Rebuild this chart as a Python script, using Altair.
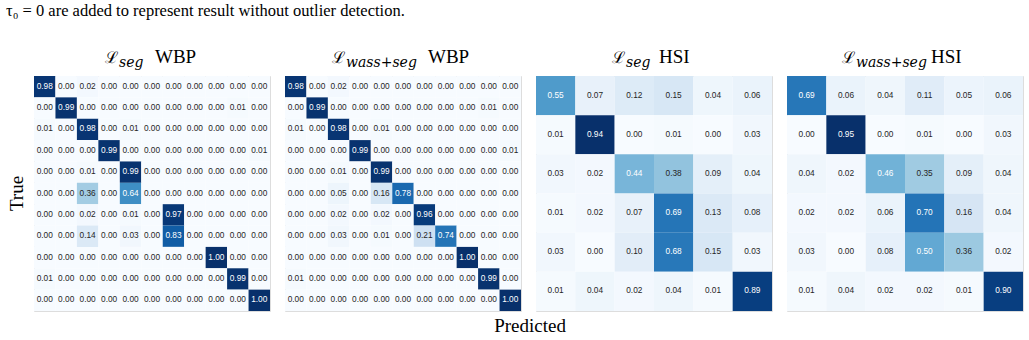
import altair as alt
import pandas as pd

# ---- data ----
wbp_seg = [
    [0.98, 0.00, 0.02, 0.00, 0.00, 0.00, 0.00, 0.00, 0.00, 0.00, 0.00],
    [0.00, 0.99, 0.00, 0.00, 0.00, 0.00, 0.00, 0.00, 0.00, 0.01, 0.00],
    [0.01, 0.00, 0.98, 0.00, 0.01, 0.00, 0.00, 0.00, 0.00, 0.00, 0.00],
    [0.00, 0.00, 0.00, 0.99, 0.00, 0.00, 0.00, 0.00, 0.00, 0.00, 0.01],
    [0.00, 0.00, 0.01, 0.00, 0.99, 0.00, 0.00, 0.00, 0.00, 0.00, 0.00],
    [0.00, 0.00, 0.36, 0.00, 0.64, 0.00, 0.00, 0.00, 0.00, 0.00, 0.00],
    [0.00, 0.00, 0.02, 0.00, 0.01, 0.00, 0.97, 0.00, 0.00, 0.00, 0.00],
    [0.00, 0.00, 0.14, 0.00, 0.03, 0.00, 0.83, 0.00, 0.00, 0.00, 0.00],
    [0.00, 0.00, 0.00, 0.00, 0.00, 0.00, 0.00, 0.00, 1.00, 0.00, 0.00],
    [0.01, 0.00, 0.00, 0.00, 0.00, 0.00, 0.00, 0.00, 0.00, 0.99, 0.00],
    [0.00, 0.00, 0.00, 0.00, 0.00, 0.00, 0.00, 0.00, 0.00, 0.00, 1.00],
]
wbp_wass = [
    [0.98, 0.00, 0.02, 0.00, 0.00, 0.00, 0.00, 0.00, 0.00, 0.00, 0.00],
    [0.00, 0.99, 0.00, 0.00, 0.00, 0.00, 0.00, 0.00, 0.00, 0.01, 0.00],
    [0.01, 0.00, 0.98, 0.00, 0.01, 0.00, 0.00, 0.00, 0.00, 0.00, 0.00],
    [0.00, 0.00, 0.00, 0.99, 0.00, 0.00, 0.00, 0.00, 0.00, 0.00, 0.01],
    [0.00, 0.00, 0.01, 0.00, 0.99, 0.00, 0.00, 0.00, 0.00, 0.00, 0.00],
    [0.00, 0.00, 0.05, 0.00, 0.16, 0.78, 0.00, 0.00, 0.00, 0.00, 0.00],
    [0.00, 0.00, 0.02, 0.00, 0.02, 0.00, 0.96, 0.00, 0.00, 0.00, 0.00],
    [0.00, 0.00, 0.03, 0.00, 0.01, 0.00, 0.21, 0.74, 0.00, 0.00, 0.00],
    [0.00, 0.00, 0.00, 0.00, 0.00, 0.00, 0.00, 0.00, 1.00, 0.00, 0.00],
    [0.01, 0.00, 0.00, 0.00, 0.00, 0.00, 0.00, 0.00, 0.00, 0.99, 0.00],
    [0.00, 0.00, 0.00, 0.00, 0.00, 0.00, 0.00, 0.00, 0.00, 0.00, 1.00],
]
hsi_seg = [
    [0.55, 0.07, 0.12, 0.15, 0.04, 0.06],
    [0.01, 0.94, 0.00, 0.01, 0.00, 0.03],
    [0.03, 0.02, 0.44, 0.38, 0.09, 0.04],
    [0.01, 0.02, 0.07, 0.69, 0.13, 0.08],
    [0.03, 0.00, 0.10, 0.68, 0.15, 0.03],
    [0.01, 0.04, 0.02, 0.04, 0.01, 0.89],
]
hsi_wass = [
    [0.69, 0.06, 0.04, 0.11, 0.05, 0.06],
    [0.00, 0.95, 0.00, 0.01, 0.00, 0.03],
    [0.04, 0.02, 0.46, 0.35, 0.09, 0.04],
    [0.02, 0.02, 0.06, 0.70, 0.16, 0.04],
    [0.03, 0.00, 0.08, 0.50, 0.36, 0.02],
    [0.01, 0.04, 0.02, 0.02, 0.01, 0.90],
]

subscripts = ["seg", "wass+seg", "seg", "wass+seg"]
datasets = ["WBP", "WBP", "HSI", "HSI"]
caption = "τ₀ = 0 are added to represent result without outlier detection."
x_title = "Predicted"
y_title = "True"

blues = ["#f7fbff", "#deebf7", "#c6dbef", "#9ecae1", "#6baed6",
         "#4292c6", "#2171b5", "#08519c", "#08306b"]

W, H = 236, 235
SERIF = "Liberation Serif"
SANS = "Liberation Sans"

# title piece positions (relative to each panel's plot origin): subscript start, word start
title_pos = [
    (85, 121),
    (61, 143),
    (90, 123),
    (69, 144),
]


def to_df(mat):
    vmax = max(max(r) for r in mat)
    rows = []
    for i, r in enumerate(mat):
        for j, v in enumerate(r):
            rows.append({"row": i, "col": j, "v": v,
                         "light": v / vmax > 0.44})
    return pd.DataFrame(rows), vmax


def text_layer(txt, x, y, size, font=SERIF, style="normal", align="left",
               angle=0):
    return alt.Chart(pd.DataFrame({"t": [txt]})).mark_text(
        font=font, fontSize=size, fontStyle=style, align=align,
        baseline="alphabetic", color="black", angle=angle,
    ).encode(text="t:N", x=alt.value(x), y=alt.value(y))


def panel(mat, k):
    df, vmax = to_df(mat)
    dom = [vmax * i / 8 for i in range(9)]
    base = alt.Chart(df)
    xs = alt.X("col:O", axis=None, scale=alt.Scale(paddingInner=0, paddingOuter=0))
    ys = alt.Y("row:O", axis=None, scale=alt.Scale(paddingInner=0, paddingOuter=0))
    rect = base.mark_rect(strokeWidth=0).encode(
        x=xs, y=ys,
        color=alt.Color("v:Q", legend=None,
                        scale=alt.Scale(domain=dom, range=blues, interpolate="rgb")),
    )
    txt = base.mark_text(font=SANS, fontSize=8.3, baseline="middle").encode(
        x=xs, y=ys,
        text=alt.Text("v:Q", format=".2f"),
        color=alt.condition("datum.light", alt.value("white"), alt.value("#262626")),
    )
    sx, wx = title_pos[k]
    layers = [
        rect, txt,
        text_layer("ℒ", sx - 1, -13, 16, font="DejaVu Serif", align="right"),
        text_layer(subscripts[k], sx, -9, 14, font="DejaVu Serif", style="italic"),
        text_layer(datasets[k], wx, -13, 19),
    ]
    if k == 0:
        layers.append(text_layer(caption, -28, -60, 16.5))
        layers.append(text_layer(y_title, -11, H / 2, 19, align="center", angle=270))
    if k == 1:
        layers.append(text_layer(x_title, 245, H + 21, 19, align="center"))
    return alt.layer(*layers).properties(width=W, height=H).resolve_scale(color="independent")


chart = alt.hconcat(
    panel(wbp_seg, 0), panel(wbp_wass, 1), panel(hsi_seg, 2), panel(hsi_wass, 3),
    spacing=15, bounds="flush",
).resolve_scale(color="independent").properties(
    padding={"left": 5, "top": 2, "right": 5, "bottom": 0},
).configure_view(stroke=None).configure(background="white")

chart.save("out.html", embed_options={"renderer": "svg", "actions": False})
